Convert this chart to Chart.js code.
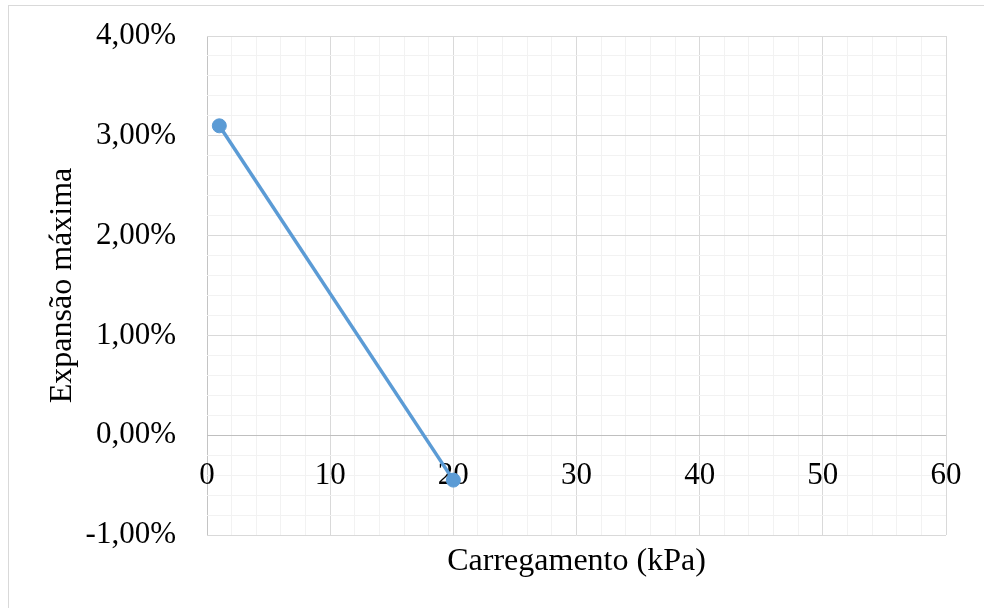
<!DOCTYPE html>
<html>
<head>
<meta charset="utf-8">
<script src="https://cdn.jsdelivr.net/npm/chart.js@4/dist/chart.umd.min.js"></script>
<style>
  html, body { margin: 0; padding: 0; background: #fff; }
  #wrap { position: relative; width: 984px; height: 608px; }
</style>
</head>
<body>
<div id="wrap"><canvas id="c" width="984" height="608"></canvas></div>
<script>
// Data
const loads = [1, 20];               // Carregamento (kPa)
const expansion = [3.1, -0.45];      // Expansão máxima (%)
const xTickValues = [0, 10, 20, 30, 40, 50, 60];
const yTickValues = [-1, 0, 1, 2, 3, 4];

const FONT = "'Liberation Serif', 'Times New Roman', serif";
const isWhole = v => Math.abs(v - Math.round(v)) < 1e-6;
const noPad = s => { s.paddingTop = 0; s.paddingBottom = 0; };

const borderPlugin = {
  id: 'outerBorder',
  beforeDraw(chart) {
    const ctx = chart.ctx;
    ctx.save();
    ctx.fillStyle = '#ffffff';
    ctx.fillRect(0, 0, chart.width, chart.height);
    ctx.strokeStyle = '#d9d9d9';
    ctx.lineWidth = 1;
    ctx.strokeRect(8.5, 5.5, chart.width + 20, chart.height + 20);
    ctx.restore();
  }
};

new Chart(document.getElementById('c'), {
  type: 'line',
  data: {
    datasets: [{
      data: loads.map((x, i) => ({ x: x, y: expansion[i] })),
      borderColor: '#5b9bd5',
      backgroundColor: '#5b9bd5',
      borderWidth: 3.5,
      pointRadius: 7,
      pointBorderWidth: 1,
      pointBackgroundColor: '#5b9bd5',
      pointBorderColor: '#5b9bd5',
      tension: 0,
      clip: false
    }]
  },
  options: {
    responsive: false,
    animation: false,
    devicePixelRatio: 1,
    layout: { padding: { left: 0, top: 36, right: 38, bottom: 0 } },
    plugins: { legend: { display: false }, tooltip: { enabled: false } },
    scales: {
      x: {
        type: 'linear',
        position: 'bottom',
        min: 0, max: 60,
        afterFit(s) { s.height = 73; noPad(s); },
        ticks: { display: false, stepSize: 2, autoSkip: false },
        grid: {
          drawTicks: false,
          color: c => (c.tick && c.tick.value === 0) ? '#c4c4c4' : (c.tick && c.tick.value % 10 === 0 ? '#d9d9d9' : '#f2f2f2'),
          lineWidth: 1
        },
        border: { display: false },
        title: {
          display: true,
          text: 'Carregamento (kPa)',
          color: '#000',
          font: { family: FONT, size: 32 },
          padding: { top: 0, bottom: 27 }
        }
      },
      xt: {
        type: 'linear',
        position: { y: 0 },
        min: 0, max: 60,
        z: 1,
        afterFit(s) { noPad(s); },
        afterBuildTicks(s) { s.ticks = xTickValues.map(v => ({ value: v })); },
        ticks: {
          color: '#000',
          font: { family: FONT, size: 31 },
          padding: 22,
          maxRotation: 0,
          autoSkip: false,
          callback: v => String(v)
        },
        grid: { display: false, drawTicks: false },
        border: { display: false }
      },
      y: {
        type: 'linear',
        position: 'left',
        min: -1, max: 4,
        afterFit(s) { s.width = 207; noPad(s); },
        ticks: {
          stepSize: 0.2,
          autoSkip: false,
          color: '#000',
          font: { family: FONT, size: 31 },
          padding: 31,
          callback: v => isWhole(v) ? (Math.round(v)).toFixed(2).replace('.', ',') + '%' : ''
        },
        grid: {
          drawTicks: false,
          color: c => {
            const v = c.tick ? c.tick.value : 1;
            if (Math.abs(v) < 1e-6) return '#bfbfbf';
            return isWhole(v) ? '#d9d9d9' : '#f2f2f2';
          },
          lineWidth: 1
        },
        border: { display: false },
        title: {
          display: true,
          text: 'Expansão máxima',
          color: '#000',
          font: { family: FONT, size: 32 },
          padding: { top: 43, bottom: 0 }
        }
      }
    }
  },
  plugins: [borderPlugin]
});
</script>
</body>
</html>
